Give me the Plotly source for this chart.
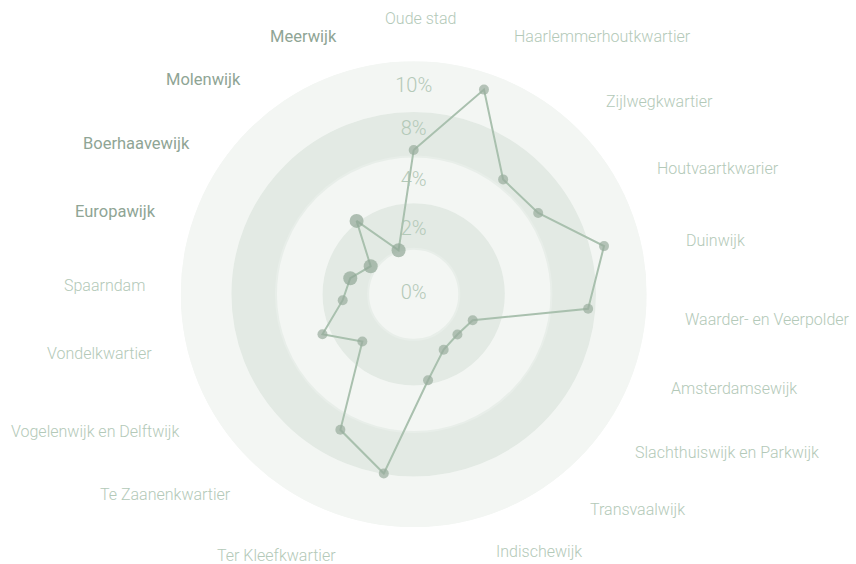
import plotly.graph_objects as go

# ---- data ----
categories = ["Oude stad", "Haarlemmerhoutkwartier", "Zijlwegkwartier", "Houtvaartkwarier",
              "Duinwijk", "Waarder- en Veerpolder", "Amsterdamsewijk", "Slachthuiswijk en Parkwijk",
              "Transvaalwijk", "Indischewijk", "Ter Kleefkwartier", "Te Zaanenkwartier",
              "Vogelenwijk en Delftwijk", "Vondelkwartier", "Spaarndam", "Europawijk",
              "Boerhaavewijk", "Molenwijk", "Meerwijk"]
values = [6.97, 10.45, 7.03, 7.18, 9.48, 8.45, 3.11, 2.87, 3.04, 4.21, 8.77, 7.44,
          3.37, 4.81, 3.44, 3.16, 2.48, 4.49, 2.25]
highlighted = ["Europawijk", "Boerhaavewijk", "Molenwijk", "Meerwijk"]

ring_edges = [0, 2.2, 4.45, 6.65, 8.85, 11.25]
tick_positions = [0, 3.1, 5.46, 7.92, 10.0]
tick_labels = ["0%", "2%", "4%", "8%", "10%"]

# label layout positions (pixel centres in the 856x564 canvas)
label_pos = {
    "Oude stad": (420.8, 19), "Haarlemmerhoutkwartier": (602, 37), "Zijlwegkwartier": (659.3, 101),
    "Houtvaartkwarier": (717.5, 168), "Duinwijk": (715.3, 241), "Waarder- en Veerpolder": (767, 319),
    "Amsterdamsewijk": (733.8, 388), "Slachthuiswijk en Parkwijk": (727, 452.5),
    "Transvaalwijk": (637.3, 509), "Indischewijk": (538.8, 551.5), "Ter Kleefkwartier": (276.5, 555),
    "Te Zaanenkwartier": (165.8, 494.5), "Vogelenwijk en Delftwijk": (94.5, 431.5),
    "Vondelkwartier": (99.2, 353), "Spaarndam": (104.8, 285.5), "Europawijk": (115.5, 211.5),
    "Boerhaavewijk": (136.7, 143.5), "Molenwijk": (203.7, 79.5), "Meerwijk": (303, 37),
}

W, H = 856, 564
CX, CY, R = 413.7, 294.3, 233
dom_x = [(CX - R) / W, (CX + R) / W]
dom_y = [(H - CY - R) / H, (H - CY + R) / H]

LIGHT = "#f3f6f3"
GREEN = "#e3eae4"
LINE = "#a9c0ae"
MARK = "#98ad9d"
MARK_BIG = "#90a795"
TXT_LIGHT = "#b3c9b8"
TXT_DARK = "#8fa595"

fig = go.Figure()

# bands (outer to inner)
band_colors = [LIGHT, GREEN, LIGHT, GREEN, LIGHT]
for i in range(len(ring_edges) - 1):
    fig.add_trace(go.Barpolar(
        r=[ring_edges[i + 1] - ring_edges[i]], base=[ring_edges[i]], theta=[180], width=[360],
        marker=dict(color=band_colors[i],
                    line=dict(color="#e8eee9" if band_colors[i] == GREEN else band_colors[i], width=2)),
        subplot="polar", hoverinfo="skip", showlegend=False))

# radial tick labels
fig.add_trace(go.Scatterpolar(
    r=tick_positions, theta=[categories[0]] * len(tick_positions), text=tick_labels,
    mode="text", textposition="middle center",
    textfont=dict(family="Roboto", size=20, color=TXT_LIGHT, weight=300),
    subplot="polar2", hoverinfo="skip", showlegend=False))

# line
fig.add_trace(go.Scatterpolar(
    r=values + [values[0]], theta=categories + [categories[0]], mode="lines",
    line=dict(color=LINE, width=2), subplot="polar2", hoverinfo="skip", showlegend=False))

sizes = [14 if c in highlighted else 10 for c in categories]
colors = [MARK_BIG if c in highlighted else MARK for c in categories]
fig.add_trace(go.Scatterpolar(
    r=values, theta=categories, mode="markers",
    marker=dict(size=sizes, color=colors, line=dict(width=0)),
    subplot="polar2", showlegend=False))

for c in categories:
    x, y = label_pos[c]
    hl = c in highlighted
    fig.add_annotation(
        x=x / W, y=1 - y / H, xref="paper", yref="paper", text=c, showarrow=False,
        xanchor="center", yanchor="middle",
        font=dict(family="Roboto", size=16.5 if hl else 16, color=TXT_DARK if hl else TXT_LIGHT,
                  weight=400 if hl else 300))

polar_common = dict(
    domain=dict(x=dom_x, y=dom_y), bgcolor="rgba(0,0,0,0)", hole=0,
    radialaxis=dict(range=[0, ring_edges[-1]], visible=False, showgrid=False),
)
fig.update_layout(
    width=W, height=H, margin=dict(l=0, r=0, t=0, b=0),
    paper_bgcolor="white", plot_bgcolor="white",
    polar=dict(**polar_common,
               angularaxis=dict(visible=False, showgrid=False, direction="clockwise", rotation=90)),
    polar2=dict(**polar_common,
                angularaxis=dict(visible=False, showgrid=False, direction="clockwise", rotation=90,
                                 type="category", categoryorder="array", categoryarray=categories)),
    showlegend=False,
)

fig.write_html("out.html", config={"displayModeBar": False},
               post_script="document.body.style.margin='0px';document.body.style.overflow='hidden';")
